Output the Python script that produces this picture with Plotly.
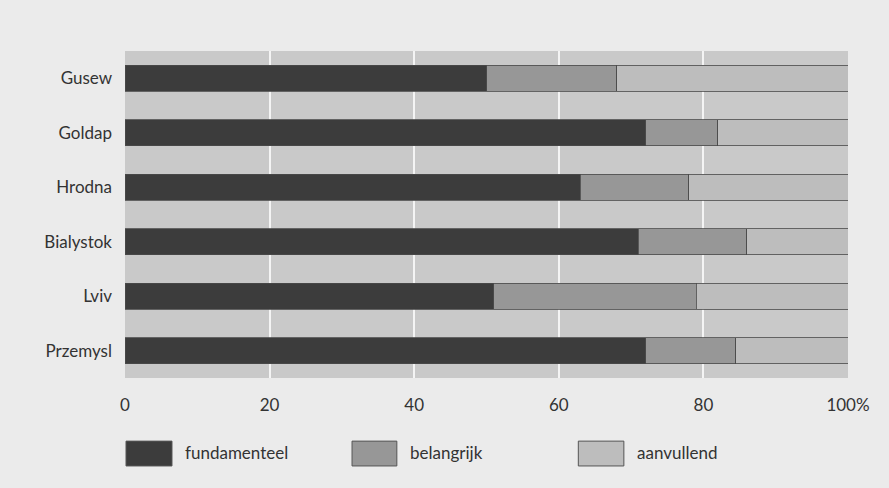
import plotly.graph_objects as go

cities = ["Gusew", "Goldap", "Hrodna", "Bialystok", "Lviv", "Przemysl"]
fundamenteel = [50, 72, 63, 71, 51, 72]
belangrijk = [18, 10, 15, 15, 28, 12.5]
aanvullend = [32, 18, 22, 14, 21, 15.5]
series_names = ["fundamenteel", "belangrijk", "aanvullend"]
tick_vals = [0, 20, 40, 60, 80, 100]
tick_text = ["0", "20", "40", "60", "80", "100%"]

colors = ["#3c3c3c", "#979797", "#bdbdbd"]
font_family = "Lato, 'Open Sans', sans-serif"

fig = go.Figure()
for name, vals, col in zip(series_names, [fundamenteel, belangrijk, aanvullend], colors):
    fig.add_trace(go.Bar(
        y=cities, x=vals, name=name, orientation="h",
        marker=dict(color=col, line=dict(color="#4a4a4a", width=0.8)),
        showlegend=False,
    ))

# custom legend (swatches + labels) below plot
legend_x = [(0.0014, 0.065), (0.314, 0.376), (0.627, 0.690)]
for (x0, x1), name, col in zip(legend_x, series_names, colors):
    fig.add_shape(type="rect", xref="paper", yref="paper",
                  x0=x0, x1=x1, y0=-0.269, y1=-0.193,
                  fillcolor=col, line=dict(color="#555555", width=1))
    fig.add_annotation(xref="paper", yref="paper", x=x1 + 0.015, y=-0.229,
                       text=name, showarrow=False, xanchor="left", yanchor="middle",
                       font=dict(size=17, color="#333333", family=font_family))

fig.update_layout(
    barmode="stack",
    bargap=0.53,
    width=889, height=488,
    margin=dict(l=125, r=41, t=51, b=110),
    paper_bgcolor="#ebebeb",
    plot_bgcolor="#c9c9c9",
    font=dict(family=font_family, size=17, color="#333333"),
    xaxis=dict(range=[0, 100], tickvals=tick_vals, ticktext=tick_text,
               showgrid=True, gridcolor="#f4f4f4", gridwidth=1.5,
               zeroline=False, showline=False, ticks="",
               ticklabelstandoff=15, fixedrange=True),
    yaxis=dict(categoryorder="array", categoryarray=cities[::-1],
               showgrid=False, ticks="", ticklabelstandoff=12, showline=False,
               fixedrange=True),
)

fig.write_html(
    "out.html",
    config={"displayModeBar": False},
    post_script="document.body.style.margin='0';document.body.style.overflow='hidden';"
                "document.body.style.background='#ebebeb';",
)
